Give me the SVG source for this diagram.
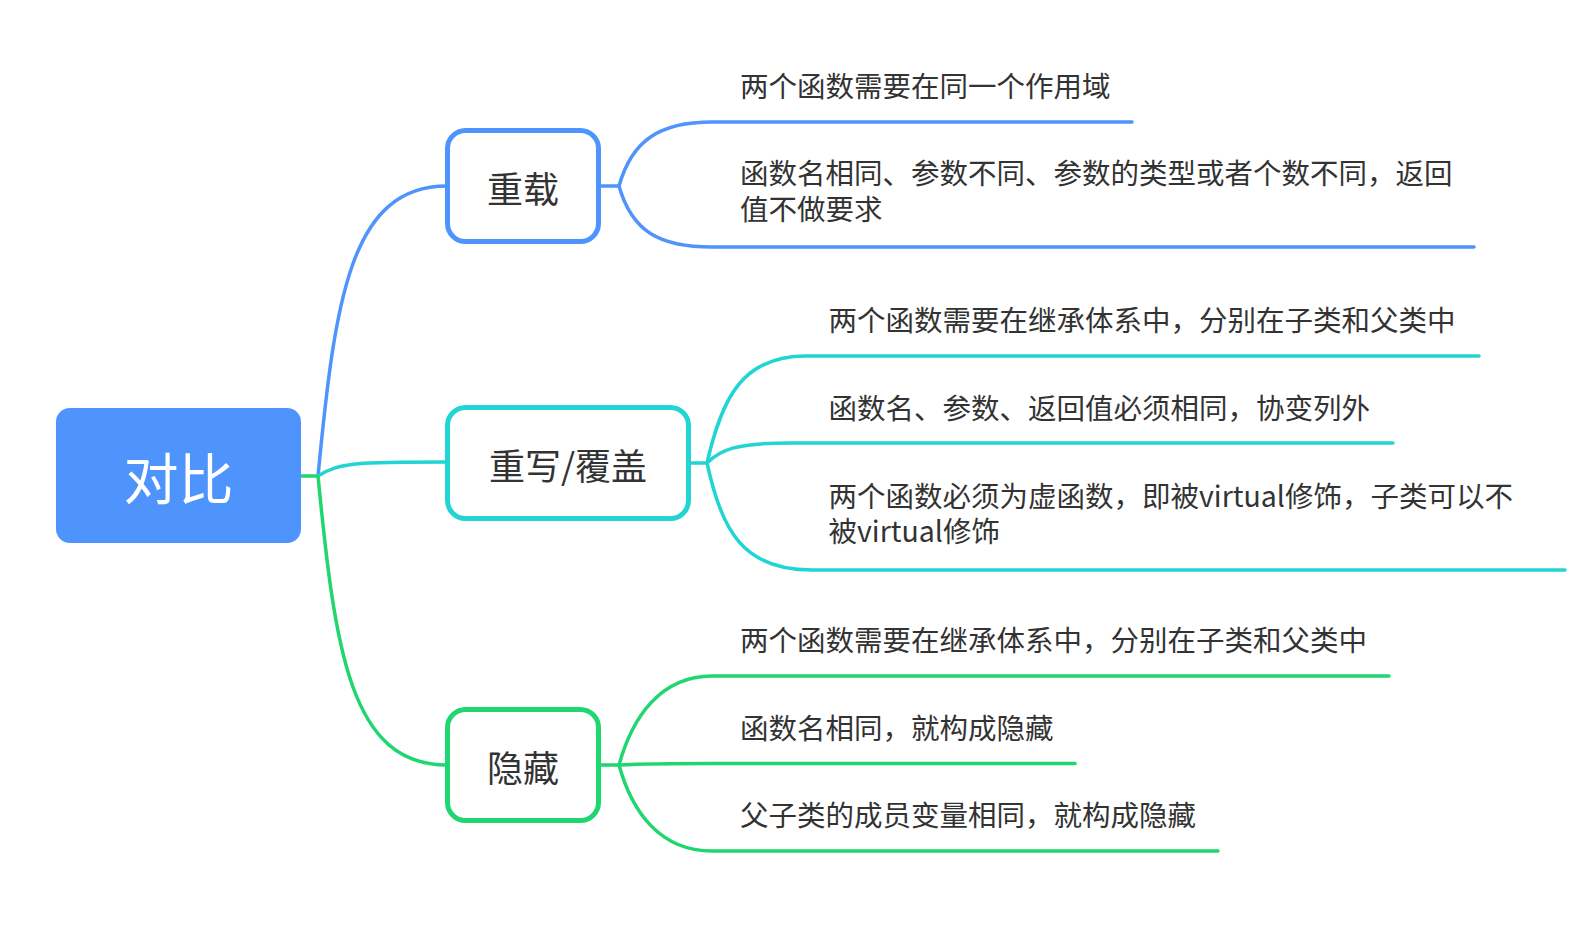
<svg xmlns="http://www.w3.org/2000/svg" width="1577" height="929" viewBox="0 0 1577 929">
<style>
.conn{fill:none;stroke-width:3.5;stroke-linecap:round;stroke-linejoin:round}
.b{stroke:#4f94fc}
.t{stroke:#22d4d4}
.g{stroke:#20d671}
.node{fill:#ffffff;stroke-width:5}
.lbl{font-family:"Noto Sans CJK SC","Microsoft YaHei",sans-serif;fill:#333333}
.sub{font-size:36px;text-anchor:middle}
.leaf{font-size:28.5px}
</style>
<rect width="1577" height="929" fill="#ffffff"/>
<g id="connectors">
  <path class="conn b" d="M318,476 C335,300 350,186 447,186"/>
  <path class="conn t" d="M318,476 C340,462 360,462 447,462"/>
  <path class="conn g" d="M301,476 L318,476 C335,650 350,765 447,765"/>
  <path class="conn b" d="M601,186 L619,186 C632,140 660,122 712,122 L1132,122"/>
  <path class="conn b" d="M619,186 C632,232 660,247 712,247 L1474,247"/>
  <path class="conn t" d="M691,463 L707,463 C722,398 742,356 806,356 L1479,356"/>
  <path class="conn t" d="M707,463 C720,450 735,443 790,443 L1393,443"/>
  <path class="conn t" d="M707,463 C722,530 742,570 812,570 L1565,570"/>
  <path class="conn g" d="M601,765 L619,765 C632,718 660,676 712,676 L1389,676"/>
  <path class="conn g" d="M619,765 C640,764 660,763.5 712,763.5 L1075,763.5"/>
  <path class="conn g" d="M619,765 C632,812 660,851 712,851 L1218,851"/>
</g>
<g id="root">
  <rect x="56" y="408" width="245" height="135" rx="14" fill="#4f94fc"/>
  <text class="lbl" x="178.5" y="499" font-size="55" style="fill:#ffffff" text-anchor="middle">对比</text>
</g>
<g id="n-overload">
  <rect class="node b" x="447.5" y="130.5" width="151" height="111" rx="18"/>
  <text class="lbl sub" x="523" y="203">重载</text>
</g>
<g id="n-override">
  <rect class="node t" x="447.5" y="407.5" width="241" height="111" rx="18"/>
  <text class="lbl sub" x="568" y="480">重写/覆盖</text>
</g>
<g id="n-hide">
  <rect class="node g" x="447.5" y="709.5" width="151" height="111" rx="18"/>
  <text class="lbl sub" x="523" y="782">隐藏</text>
</g>
<g id="leaf-o1"><text class="lbl leaf" x="740" y="97">两个函数需要在同一个作用域</text></g>
<g id="leaf-o2"><text class="lbl leaf" x="740" y="184">函数名相同、参数不同、参数的类型或者个数不同，返回<tspan x="740" dy="36">值不做要求</tspan></text></g>
<g id="leaf-r1"><text class="lbl leaf" x="828.5" y="331">两个函数需要在继承体系中，分别在子类和父类中</text></g>
<g id="leaf-r2"><text class="lbl leaf" x="828.5" y="419">函数名、参数、返回值必须相同，协变列外</text></g>
<g id="leaf-r3"><text class="lbl leaf" x="828.5" y="507">两个函数必须为虚函数，即被virtual修饰，子类可以不<tspan x="828.5" dy="35">被virtual修饰</tspan></text></g>
<g id="leaf-h1"><text class="lbl leaf" x="740" y="651">两个函数需要在继承体系中，分别在子类和父类中</text></g>
<g id="leaf-h2"><text class="lbl leaf" x="740" y="739">函数名相同，就构成隐藏</text></g>
<g id="leaf-h3"><text class="lbl leaf" x="740" y="826">父子类的成员变量相同，就构成隐藏</text></g>
</svg>
